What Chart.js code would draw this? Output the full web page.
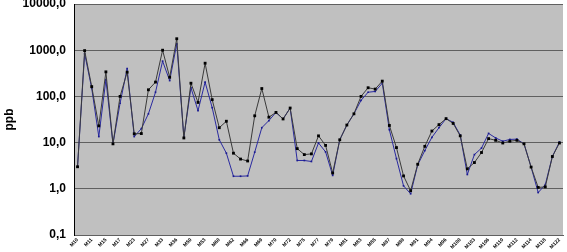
<!DOCTYPE html>
<html>
<head>
<meta charset="utf-8">
<script src="https://cdn.jsdelivr.net/npm/chart.js@4/dist/chart.umd.min.js"></script>
<style>
html,body{margin:0;padding:0;background:#fff;}
#wrap{width:567px;height:252px;}
</style>
</head>
<body>
<div id="wrap"><canvas id="c" width="567" height="252"></canvas></div>
<script>
const categories = ["M10","M10A","M11","M13","M15","M16","M17","M20","M23","M25","M27","M30","M33","M35","M36","M42",
"M50","M52","M53","M57","M60","M61","M62","M64","M66","M68","M69","M69A","M70","M71","M72","M74","M75","M76","M77","M78",
"M79","M80","M81","M82","M83","M84","M85","M86","M87","M88","M89","M90","M91","M93","M94","M95","M96","M98","M100","M101",
"M103","M105","M106","M108","M110","M111","M112","M113","M114","M116","M118","M120","M122"];

const seriesBlack = [3.0,980,163,23,340,9.4,100,335,15.5,15.7,139,204,1000,260,1770,12.6,193,74,523,85,21,29,5.9,4.4,4.0,38,148,35.5,45,32.5,56,7.4,5.5,5.7,14,8.7,2.2,11.5,24,42,100,154,144,214,23.5,7.8,1.9,0.91,3.4,8.3,17.8,24.5,33,26,14,2.7,3.7,6.1,12.2,11.2,9.8,10.7,11.2,9.4,2.95,1.07,1.1,5.0,9.8];

const seriesBlue = [3.0,840,150,13.5,230,9.4,71,400,13.5,20,42,123,580,220,1370,13,154,49,204,57,11.5,5.9,1.87,1.87,1.9,6.2,21,30,45,32.5,56,4.1,4.1,3.9,9.8,6.3,1.95,11.5,24,42,82,123,128,193,19,4.5,1.16,0.78,3.3,6.7,13,21,33,27.5,14.5,2.04,5.5,7.6,15.8,12.6,10.7,11.7,11.9,9.4,2.95,0.83,1.23,5.0,10.3];

const yTicks = [0.1,1,10,100,1000,10000];

const plotBg = {
  id:'plotBg',
  beforeDraw(chart){
    const {ctx, chartArea:a} = chart;
    ctx.save();
    ctx.fillStyle = '#c0c0c0';
    ctx.fillRect(a.left, a.top, a.right-a.left, a.bottom-a.top);
    ctx.restore();
  }
};

new Chart(document.getElementById('c'), {
  type:'line',
  data:{
    labels: categories,
    datasets:[
      {label:'A', data: seriesBlack, borderColor:'#3a3a3a', backgroundColor:'#000', borderWidth:1,
       pointStyle:'rect', pointRadius:2, pointBorderWidth:0, pointBackgroundColor:'#000', tension:0},
      {label:'B', data: seriesBlue, borderColor:'#2a2aa0', backgroundColor:'#1a1a90', borderWidth:1,
       pointStyle:'rect', pointRadius:1.2, pointBorderWidth:0, pointBackgroundColor:'#1a1a90', tension:0}
    ]
  },
  options:{
    responsive:false,
    animation:false,
    devicePixelRatio:1,
    layout:{padding:{top:3,right:1,left:0,bottom:0}},
    plugins:{legend:{display:false}, tooltip:{enabled:false}},
    scales:{
      x:{
        type:'category',
        offset:true,
        grid:{display:false, drawTicks:false},
        border:{display:true,color:'#606060'},
        ticks:{
          autoSkip:false, minRotation:45, maxRotation:45, padding:2,
          color:'#000', font:{family:'Liberation Sans, Arial', size:5, weight:'bold'},
          callback:function(v, i){ return i%2===0 ? categories[i] : ''; }
        },
        afterFit(s){ s.height = 17; s.paddingLeft = 0; s.paddingRight = 0; }
      },
      y:{
        type:'logarithmic',
        min:0.1, max:10000,
        afterBuildTicks(s){ s.ticks = yTicks.map(v=>({value:v, major:true})); },
        grid:{color:'#606060', lineWidth:1, drawTicks:false},
        border:{display:true,color:'#000'},
        ticks:{
          padding:8, color:'#000',
          font:{family:'Liberation Sans, Arial', size:12, weight:'bold'},
          callback:function(v){ return Number(v).toFixed(1).replace('.', ','); }
        },
        title:{display:true, text:'ppb', color:'#000', padding:{top:2,bottom:0},
          font:{family:'Liberation Sans, Arial', size:12, weight:'bold'}},
        afterFit(s){ s.width = 74; s.paddingTop = 0; s.paddingBottom = 0; }
      }
    }
  },
  plugins:[plotBg]
});
</script>
</body>
</html>
